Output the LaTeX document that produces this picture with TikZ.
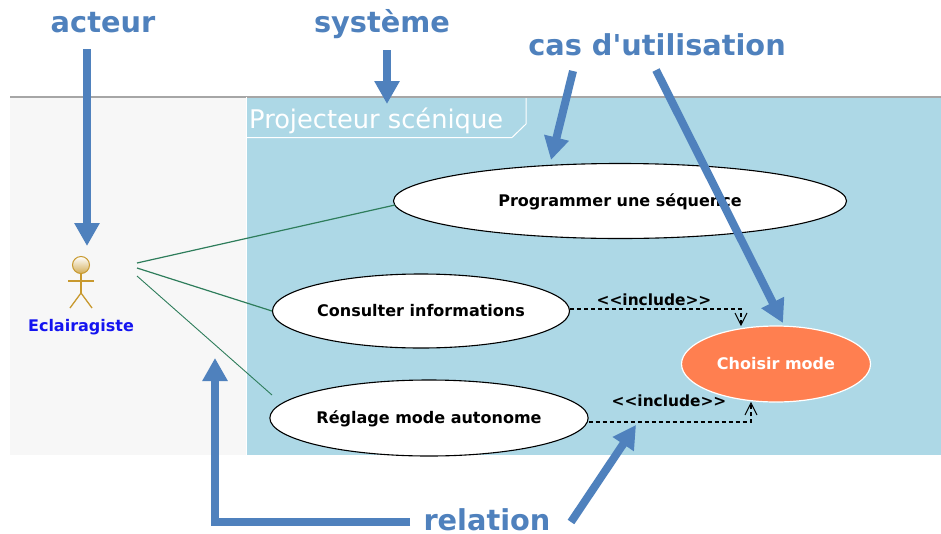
\documentclass[tikz,border=0pt]{standalone}
\usepackage{fontspec}
\setmainfont{DejaVu Sans}
\newfontfamily\dvraw{DejaVu Sans}
\usetikzlibrary{arrows.meta,shapes.geometric}
\definecolor{bluearrow}{HTML}{4F81BD}
\definecolor{sysblue}{HTML}{ADD8E6}
\definecolor{paleg}{HTML}{F7F7F7}
\definecolor{assoc}{HTML}{2E7D5B}
\definecolor{orangeuc}{HTML}{FF7F50}
\definecolor{actorc}{HTML}{C8992E}
\tikzset{
  callout/.style={draw=bluearrow,line width=8pt,-{Triangle[length=23pt,width=24pt]}},
  calllabel/.style={text=bluearrow,font=\fontsize{28.8}{30}\dvraw\bfseries,inner sep=0pt},
  usecase/.style={ellipse,draw=black,fill=white,line width=1.1pt,inner sep=0pt,text depth=0pt,text height=10.5pt,font=\fontsize{16}{18}\selectfont\bfseries},
  assocline/.style={draw=assoc,line width=1.2pt},
  incl/.style={draw=black,line width=1.1pt,dash pattern=on 4pt off 3pt},
  incllabel/.style={font=\fontsize{15.4}{17}\dvraw\bfseries,inner sep=0pt},
  inclhead/.style={draw=black,line width=1pt},
  actorline/.style={draw=actorc,line width=1.3pt},
}
\begin{document}
\begin{tikzpicture}[x=1pt,y=-1pt]
\useasboundingbox (0,0) rectangle (941,533);
\fill[white] (0,0) rectangle (941,533);
% backgrounds
\fill[paleg] (10,97) rectangle (247,455);
\fill[sysblue] (247,97) rectangle (941,455);
\draw[gray!70,line width=2pt] (10,96.5) -- (941,96.5);
% system tab
\draw[white,line width=1pt] (247,137.5) -- (512,137.5) -- (526,124) -- (526,98);
\draw[white,line width=1pt] (246.5,97) -- (246.5,455);
\node[anchor=west,text=white,font=\fontsize{25.7}{28}\selectfont,inner sep=0pt] (sys) at (249,120.5) {Projecteur scénique};
% use cases
\node[usecase,minimum width=453pt,minimum height=75pt] (prog) at (620,201) {Programmer une séquence};
\node[usecase,minimum width=297pt,minimum height=74pt] (cons) at (421,311) {Consulter informations};
\node[usecase,minimum width=317pt,minimum height=76pt] (regl) at (429,418) {Réglage mode autonome};
\node[ellipse,draw=white,fill=orangeuc,line width=1.2pt,inner sep=0pt,minimum width=189pt,minimum height=76pt,text=white,text depth=0pt,text height=10.5pt,font=\fontsize{16}{18}\selectfont\bfseries] (mode) at (776,364) {Choisir mode};
% actor
\node[circle,draw=actorc,line width=1pt,minimum size=17pt,inner sep=0pt,top color=white,bottom color=actorc!80] (head) at (81,265) {};
\coordinate (hip) at (81,293);
\coordinate (armL) at (68,281);
\coordinate (armR) at (94,281);
\coordinate (footL) at (70,308);
\coordinate (footR) at (92,308);
\draw[actorline] (head.south) -- (hip);
\draw[actorline] (armL) -- (armR);
\draw[actorline] (footL) -- (hip) -- (footR);
\node[text={rgb,255:red,20;green,20;blue,240},font=\fontsize{16}{18}\selectfont\bfseries,inner sep=0pt] (actor) at (81,327) {Eclairagiste};
% associations
\coordinate (a1) at (137,263);
\coordinate (a2) at (137,268);
\coordinate (a3) at (137,276);
\coordinate (p1) at (395,205);
\coordinate (r3) at (272,395);
\draw[assocline] (a1) -- (p1);
\draw[assocline] (a2) -- (cons.west);
\draw[assocline,line width=.9pt] (a3) -- (r3);
% include
\coordinate (c1) at (741,309);
\coordinate (c2) at (751,422);
\coordinate (c1e) at (741,325);
\coordinate (c2e) at (751,403);
\node[incllabel,text depth=0pt] (il1) at (654,300) {<<include>>};
\node[incllabel,text depth=0pt] (il2) at (669,401) {<<include>>};
\draw[incl] (cons.east |- c1) -- (c1) -- (c1e);
\draw[incl] (regl.east |- c2) -- (c2) -- (c2e);
\draw[inclhead] (735,313) -- (c1e) -- (747,313);
\draw[inclhead] (745,415) -- (c2e) -- (757,415);
% callouts
\node[calllabel] (lact) at (103,23) {acteur};
\node[calllabel] (lsys) at (382,24) {système};
\node[calllabel] (luc) at (657,45) {cas d'utilisation};
\node[calllabel] (lrel) at (487,520) {relation};
\coordinate (s1) at (87,49);
\coordinate (e1) at (87,246);
\coordinate (s2) at (387,50);
\coordinate (e2) at (387,104);
\coordinate (s3) at (573,71);
\coordinate (e3) at (551,160);
\coordinate (s4) at (656,70);
\coordinate (e4) at (783,323);
\coordinate (s5) at (410,522);
\coordinate (b5) at (215,522);
\coordinate (e5) at (215,358);
\coordinate (s6) at (571,522);
\coordinate (e6) at (636,425);
\draw[callout] (s1) -- (e1);
\draw[callout] (s2) -- (e2);
\draw[callout] (s3) -- (e3);
\draw[callout] (s4) -- (e4);
\draw[callout] (s5) -- (b5) -- (e5);
\draw[callout] (s6) -- (e6);
\end{tikzpicture}
\end{document}
